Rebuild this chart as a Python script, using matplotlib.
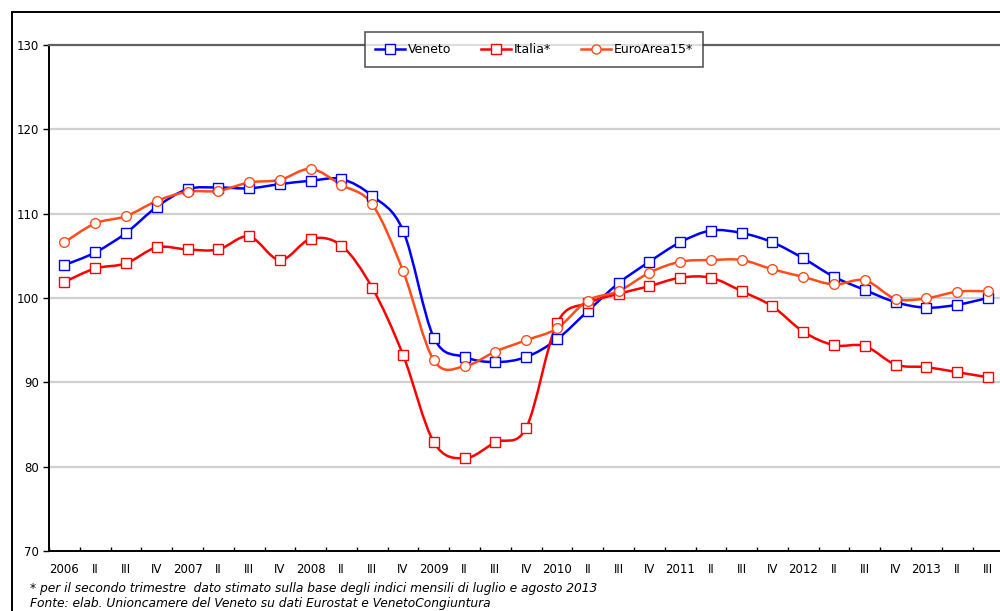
import matplotlib
matplotlib.use("Agg")
import matplotlib.pyplot as plt
import numpy as np
from matplotlib.path import Path
from matplotlib.patches import PathPatch, Rectangle
from matplotlib.lines import Line2D

quarters = ["2006", "II", "III", "IV", "2007", "II", "III", "IV", "2008", "II", "III", "IV",
            "2009", "II", "III", "IV", "2010", "II", "III", "IV", "2011", "II", "III", "IV",
            "2012", "II", "III", "IV", "2013", "II", "III"]

veneto = [103.9, 105.4, 107.7, 110.8, 112.9, 113.1, 113.0, 113.5, 113.9, 114.1, 112.1, 108.0,
          95.3, 93.0, 92.4, 93.0, 95.1, 98.45, 101.75, 104.3, 106.6, 108.0, 107.7, 106.6,
          104.7, 102.5, 100.95, 99.5, 98.85, 99.2, 100.0]

italia = [101.9, 103.5, 104.1, 106.0, 105.75, 105.75, 107.3, 104.5, 107.0, 106.2, 101.2, 93.25,
          82.9, 81.0, 82.9, 84.6, 97.0, 99.4, 100.5, 101.4, 102.4, 102.4, 100.8, 99.0,
          96.0, 94.4, 94.3, 92.1, 91.8, 91.2, 90.6]

euroarea = [106.6, 108.85, 109.7, 111.5, 112.6, 112.7, 113.7, 114.0, 115.3, 113.4, 111.1, 103.2,
            92.6, 91.9, 93.65, 95.0, 96.4, 99.7, 100.8, 103.0, 104.3, 104.5, 104.5, 103.4,
            102.5, 101.6, 102.1, 99.9, 99.96, 100.75, 100.8]

series_names = ["Veneto", "Italia*", "EuroArea15*"]
colors = ["#0000FF", "#FF0000", "#FF4D1A"]
markers = ["s", "s", "o"]

footnote1 = "* per il secondo trimestre  dato stimato sulla base degli indici mensili di luglio e agosto 2013"
footnote2 = "Fonte: elab. Unioncamere del Veneto su dati Eurostat e VenetoCongiuntura"


def smooth_path(x, y, t=1.0 / 6.0):
    verts = [(x[0], y[0])]
    codes = [Path.MOVETO]
    n = len(x)
    for i in range(n - 1):
        x0, y0 = (x[i - 1], y[i - 1]) if i > 0 else (x[i], y[i])
        x1, y1 = x[i], y[i]
        x2, y2 = x[i + 1], y[i + 1]
        x3, y3 = (x[i + 2], y[i + 2]) if i + 2 < n else (x[i + 1], y[i + 1])
        c1 = (x1 + (x2 - x0) * t, y1 + (y2 - y0) * t)
        c2 = (x2 - (x3 - x1) * t, y2 - (y3 - y1) * t)
        verts += [c1, c2, (x2, y2)]
        codes += [Path.CURVE4] * 3
    return Path(verts, codes)


fig = plt.figure(figsize=(10, 6.11), dpi=100)
ax = fig.add_axes([0.049, 0.0982, 0.9544, 0.8282])

xs = np.arange(len(quarters))
ax.set_xlim(-0.5, len(quarters) - 0.5)
ax.set_ylim(70, 130)

for vals, c, m, name in zip([veneto, italia, euroarea], colors, markers, series_names):
    p = smooth_path(list(xs), list(vals))
    ax.add_patch(PathPatch(p, facecolor="none", edgecolor=c, lw=1.8, zorder=3))
    ax.plot(xs, vals, linestyle="none", marker=m, markersize=6.5 if m == "s" else 7,
            markerfacecolor="white", markeredgecolor=c, markeredgewidth=1.0, zorder=4)

ax.set_yticks(np.arange(70, 131, 10))
ax.set_yticklabels([str(v) for v in range(70, 131, 10)], fontsize=8.5)
for v in range(80, 130, 10):
    ax.axhline(v, color="#d0d0d0", lw=1.6, zorder=1)

ax.set_xticks(xs)
ax.set_xticklabels(quarters, fontsize=8.5)
ax.set_xticks(np.arange(-0.5, len(quarters), 1), minor=True)
ax.tick_params(axis="x", which="major", length=0, pad=9)
ax.tick_params(axis="x", which="minor", length=3, direction="in", width=1)
ax.tick_params(axis="y", length=4, width=1, pad=3)

ax.spines["right"].set_visible(False)
ax.spines["top"].set_color("#606060")
ax.spines["top"].set_linewidth(1.6)
ax.spines["left"].set_linewidth(1.4)
ax.spines["bottom"].set_linewidth(1.4)

handles = [Line2D([0], [0], color=c, lw=1.8, marker=m, markersize=6.5,
                  markerfacecolor="white", markeredgecolor=c, markeredgewidth=1.0)
           for c, m in zip(colors, markers)]
leg = ax.legend(handles, series_names, loc="center", bbox_to_anchor=(0.508, 0.991),
                ncol=3, fontsize=9, frameon=True, fancybox=False, borderpad=0.85,
                handlelength=2.4, handletextpad=0.2, columnspacing=2.4, borderaxespad=0)
leg.get_frame().set_edgecolor("#303030")
leg.get_frame().set_linewidth(1.2)
leg.set_zorder(10)

fig.text(0.03, 0.0365, footnote1, fontsize=8.8, style="italic", va="center", ha="left")
fig.text(0.03, 0.0115, footnote2, fontsize=8.8, style="italic", va="center", ha="left")

fig.add_artist(Rectangle((0.012, -0.05), 1.05, 1.0304, transform=fig.transFigure,
                         fill=False, edgecolor="black", lw=1.4))

fig.savefig("out.png", dpi=100)
